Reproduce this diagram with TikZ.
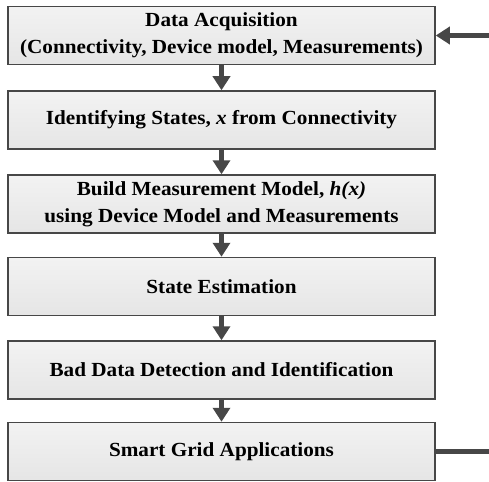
\documentclass[tikz,border=0pt]{standalone}
\usepackage{fontspec}
\setmainfont[FakeStretch=1.06]{Liberation Serif}
\usetikzlibrary{arrows.meta}
\begin{document}
\begin{tikzpicture}[x=1pt,y=-1pt,
  stepbox/.style={draw=black!72, line width=1.5pt, top color=black!5, bottom color=black!10,
    minimum width=427pt, minimum height=58pt, inner sep=0pt,
    align=center, font=\bfseries\fontsize{20}{27}\selectfont},
  link/.style={draw=black!72, line width=5pt},
  flow/.style={link, -{Triangle[width=17pt,length=14pt]}}]
  \useasboundingbox (0,0) rectangle (489,481);
  \node[stepbox] (acq)  at (221.5,35.5) {Data Acquisition\\(Connectivity, Device model, Measurements)};
  \node[stepbox] (ids)  at (221.5,120)  {Identifying States, \textit{x} from Connectivity};
  \node[stepbox] (bmm)  at (221.5,204)  {Build Measurement Model, \textit{h(x)}\\using Device Model and Measurements};
  \node[stepbox] (se)   at (221.5,286.5){State Estimation};
  \node[stepbox] (bdd)  at (221.5,370)  {Bad Data Detection and Identification};
  \node[stepbox] (sga)  at (221.5,451.5){Smart Grid Applications};
  \draw[flow] (acq) -- (ids);
  \draw[flow] (ids) -- (bmm);
  \draw[flow] (bmm) -- (se);
  \draw[flow] (se) -- (bdd);
  \draw[flow] (bdd) -- (sga);
  % feedback loop leaving and re-entering at the right edge
  \coordinate (outR) at (489,451.5);
  \coordinate (inR) at (489,35.5);
  \draw[link] (sga.east) -- (outR);
  \draw[flow] (inR) -- (acq.east);
\end{tikzpicture}
\end{document}
